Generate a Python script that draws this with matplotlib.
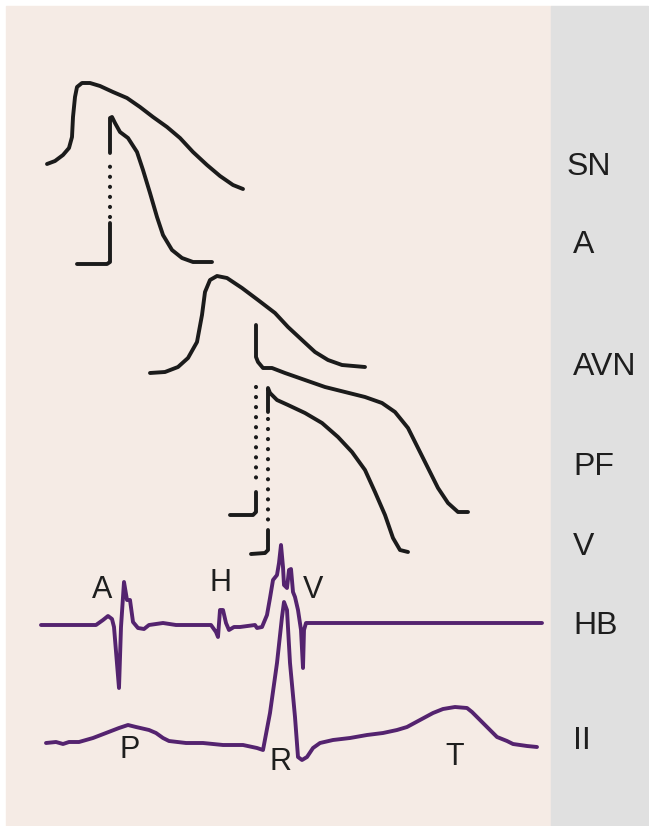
import numpy as np
import matplotlib.pyplot as plt
from matplotlib.patches import Rectangle

# traces (x, y in picture pixels, y grows down)
sn_x = [47, 55, 63, 69, 72, 73, 75, 77, 82, 90, 100, 113, 127, 140, 153, 167,
        180, 193, 207, 220, 233, 243]
sn_y = [164, 161, 155, 148, 137, 117, 97, 87, 83, 83, 86, 92, 98, 107, 117, 127,
        138, 152, 165, 176, 185, 189]

a_x = [77, 107, 110, 110]
a_y = [264, 264, 262, 223]
a_dot_x = [110, 110]
a_dot_y = [217, 158]
a_top_x = [110, 110, 112, 115, 120, 128, 137, 143, 150, 157, 163, 172, 182, 193, 212]
a_top_y = [153, 118, 117, 123, 132, 138, 152, 170, 193, 217, 235, 250, 258, 262, 262]

avn_x = [150, 165, 178, 188, 197, 202, 205, 210, 217, 227, 242, 258, 275, 288,
         302, 315, 328, 342, 365]
avn_y = [373, 372, 367, 358, 342, 315, 292, 280, 276, 278, 288, 300, 313, 327,
         340, 352, 360, 365, 367]

pf_x = [256, 256, 258, 263, 272, 285, 305, 325, 345, 365, 382, 395, 408, 418,
        428, 438, 448, 458, 468]
pf_y = [325, 357, 362, 368, 368, 373, 380, 387, 392, 397, 403, 412, 428, 448,
        468, 488, 503, 512, 512]
pf_dot_x = [256, 256]
pf_dot_y = [387, 484]
pf_low_x = [230, 253, 256, 256]
pf_low_y = [515, 515, 512, 492]

v_x = [268, 268, 270, 277, 288, 305, 322, 338, 352, 365, 375, 385, 393, 400, 408]
v_y = [412, 388, 393, 400, 405, 413, 423, 437, 452, 470, 492, 515, 538, 550, 552]
v_dot_x = [268, 268]
v_dot_y = [419, 525]
v_low_x = [251, 265, 268, 268]
v_low_y = [554, 553, 550, 530]

hb_x = [41, 96, 103, 108, 112, 114, 119, 121, 124, 127, 130, 133, 138, 144, 149,
        163, 176, 193, 211, 216, 218, 220, 223, 226, 229, 234, 240, 255, 257,
        262, 267, 270, 273, 277, 279, 281, 283, 284, 287, 289, 291, 293, 295,
        298, 301, 303, 304, 306, 542]
hb_y = [625, 625, 620, 616, 619, 627, 688, 627, 582, 600, 600, 622, 628, 629, 625,
        623, 625, 625, 625, 632, 637, 610, 610, 623, 630, 627, 627, 625, 628,
        627, 615, 598, 580, 575, 563, 545, 567, 585, 588, 570, 569, 592, 597,
        610, 630, 668, 630, 623, 623]

ii_x = [46, 56, 63, 69, 79, 93, 106, 119, 128, 136, 149, 156, 163, 169, 186,
        203, 223, 236, 243, 257, 263, 270, 277, 282, 284, 287, 290, 295, 298,
        302, 307, 313, 320, 333, 350, 367, 383, 397, 407, 420, 433, 443, 455,
        467, 472, 483, 497, 507, 513, 527, 537]
ii_y = [743, 742, 744, 742, 742, 738, 733, 728, 725, 727, 730, 733, 738, 741, 743,
        743, 745, 745, 745, 748, 750, 713, 663, 617, 602, 610, 663, 717, 757,
        760, 757, 748, 743, 740, 738, 735, 733, 730, 727, 720, 713, 709, 707,
        708, 712, 723, 737, 741, 744, 746, 747]

row_labels = ["SN", "A", "AVN", "PF", "V", "HB", "II"]
row_label_x = [567, 573, 573, 573, 573, 573, 573]
row_label_y = [167, 245, 367, 467, 547, 626, 741]

wave_labels = ["A", "H", "V", "P", "R", "T"]
wave_label_x = [102, 220, 313, 130, 280, 455]
wave_label_y = [590, 583, 590, 750, 762, 757]

black = "#1b1b1b"
purple = "#54236f"

fig = plt.figure(figsize=(6.49, 8.26), dpi=100)
fig.patch.set_facecolor("white")
ax = fig.add_axes([0, 0, 1, 1])
ax.set_xlim(0, 649)
ax.set_ylim(826, 0)
ax.axis("off")

ax.add_patch(Rectangle((6, 6), 545, 830, color="#f5ebe5", zorder=0))
ax.add_patch(Rectangle((551, 6), 97, 830, color="#e0e0e0", zorder=0))

solid = dict(color=black, lw=2.8, solid_capstyle="round", solid_joinstyle="round")
dots = dict(color=black, lw=3.0, linestyle=(0, (0.01, 2.4)), dash_capstyle="round")

for xs, ys in [(sn_x, sn_y), (a_x, a_y), (a_top_x, a_top_y), (avn_x, avn_y),
               (pf_x, pf_y), (pf_low_x, pf_low_y), (v_x, v_y), (v_low_x, v_low_y)]:
    ax.plot(xs, ys, **solid)
for xs, ys in [(a_dot_x, a_dot_y), (pf_dot_x, pf_dot_y), (v_dot_x, v_dot_y)]:
    ax.plot(xs, ys, **dots)

ax.plot(hb_x, hb_y, color=purple, lw=2.8, solid_joinstyle="round", solid_capstyle="round")
ax.plot(ii_x, ii_y, color=purple, lw=2.8, solid_joinstyle="round", solid_capstyle="round")

for lab, x, y in zip(row_labels, row_label_x, row_label_y):
    ax.text(x, y, lab, fontsize=23, family="Liberation Sans", color="#1e1e1e",
            ha="left", va="center")
for lab, x, y in zip(wave_labels, wave_label_x, wave_label_y):
    ax.text(x, y, lab, fontsize=22, family="Liberation Sans", color="#1e1e1e",
            ha="center", va="center")

fig.savefig("out.png", dpi=100, facecolor=fig.get_facecolor())
